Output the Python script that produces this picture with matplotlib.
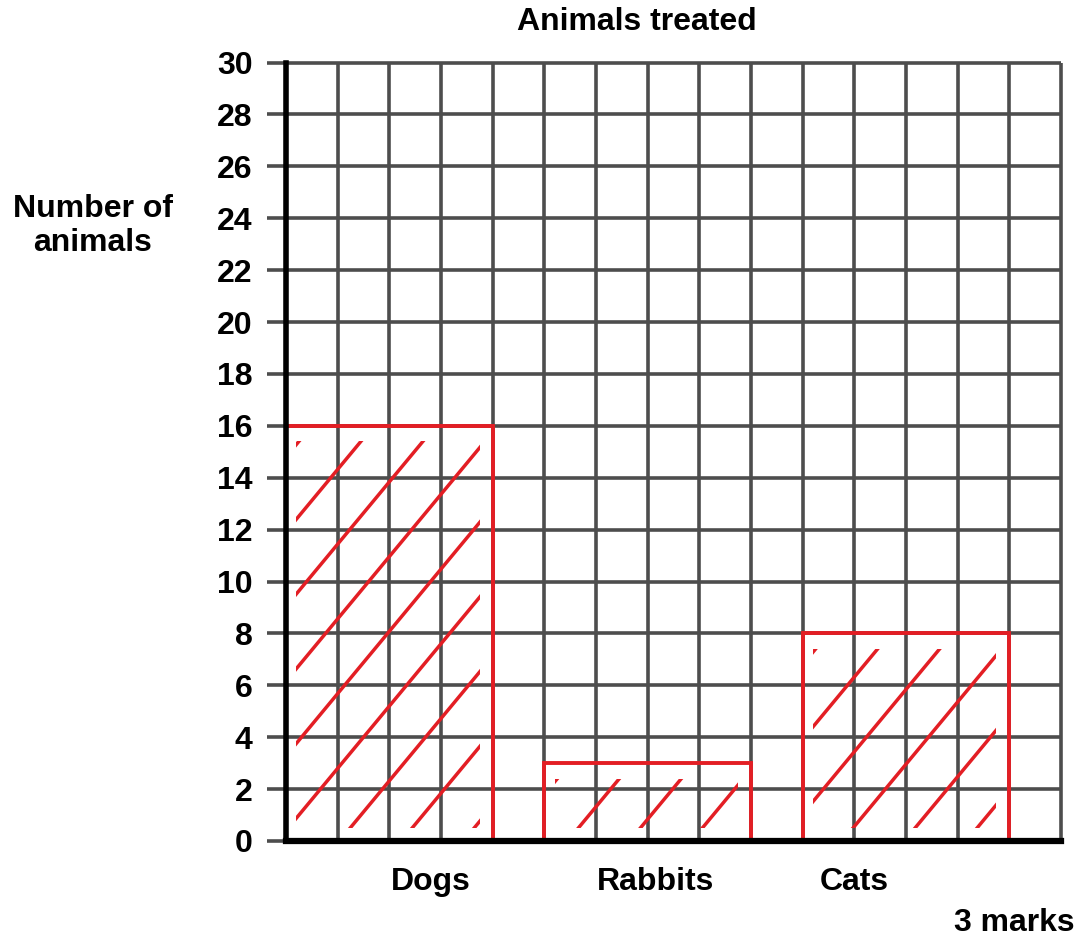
import numpy as np
import matplotlib
matplotlib.use("Agg")
import matplotlib.pyplot as plt
from matplotlib.patches import Rectangle

# --- Datos ---
CATEGORIES = ["Dogs", "Rabbits", "Cats"]
VALUES = [16, 3, 8]
Y_TICKS = list(range(0, 31, 2))

# --- Disposición (posiciones en la cuadrícula) ---
BAR_LEFT = [0, 5, 10]
BAR_WIDTH = 4
LABEL_X = [2.8, 7.15, 11.0]
N_COLS = 15

RED = "#e31e24"
GRID = "#4d4d4d"
FONT = "Liberation Sans"
FS = 23

plt.rcParams["font.family"] = [FONT, "DejaVu Sans"]
plt.rcParams["font.weight"] = "bold"

fig = plt.figure(figsize=(10.79, 9.40), dpi=100)
ax = fig.add_axes([286 / 1079, 1 - 841 / 940, (1061 - 286) / 1079, (841 - 62.5) / 940])

ax.set_xlim(0, N_COLS)
ax.set_ylim(0, 30)

# cuadrícula (sin recorte para que las líneas del borde se vean enteras)
ax.vlines(range(1, N_COLS + 1), 0, 30, color=GRID, linewidth=2.6, clip_on=False, zorder=1)
ax.hlines(Y_TICKS[1:], 0, N_COLS, color=GRID, linewidth=2.6, clip_on=False, zorder=1)

ax.set_yticks(Y_TICKS)
ax.set_yticklabels([str(v) for v in Y_TICKS], fontsize=FS, fontweight="bold")
ax.set_xticks(LABEL_X)
ax.set_xticklabels(CATEGORIES, fontsize=FS, fontweight="bold")
ax.tick_params(axis="x", length=0, pad=19)
ax.tick_params(axis="y", length=14, width=2.6, color=GRID, pad=10)

for s in ["top", "right"]:
    ax.spines[s].set_visible(False)
ax.spines["left"].set_linewidth(4)
ax.spines["bottom"].set_linewidth(4.5)
ax.spines["left"].set_zorder(5)
ax.spines["bottom"].set_zorder(5)

# barras dibujadas a mano (solo contorno rojo)
bars = ax.bar(BAR_LEFT, VALUES, width=BAR_WIDTH, align="edge",
              facecolor="none", edgecolor=RED, linewidth=2.8, zorder=3)

# rayado diagonal a mano dentro de cada barra
slope = 2.4
for left, h in zip(BAR_LEFT, VALUES):
    clip = Rectangle((left + 0.2, 0.5), BAR_WIDTH - 0.45, h - 1.1, transform=ax.transData)
    for c in np.arange(left - h / slope + 0.5, left + BAR_WIDTH, 1.2):
        xs = np.array([c, c + h / slope])
        ln, = ax.plot(xs, slope * (xs - c), color=RED, linewidth=2.5,
                      solid_capstyle="round", zorder=3)
        ln.set_clip_path(clip)

# textos
fig.text(637 / 1079, 1 - 22 / 940, "Animals treated", ha="center", va="center",
         fontsize=FS, fontweight="bold")
fig.text(93 / 1079, 1 - 226 / 940, "Number of\nanimals", ha="center", va="center",
         fontsize=FS, fontweight="bold", multialignment="center", linespacing=1.15)
fig.text(1075 / 1079, 1 - 923 / 940, "3 marks", ha="right", va="center",
         fontsize=FS, fontweight="bold")

plt.savefig("out.png", dpi=100)
